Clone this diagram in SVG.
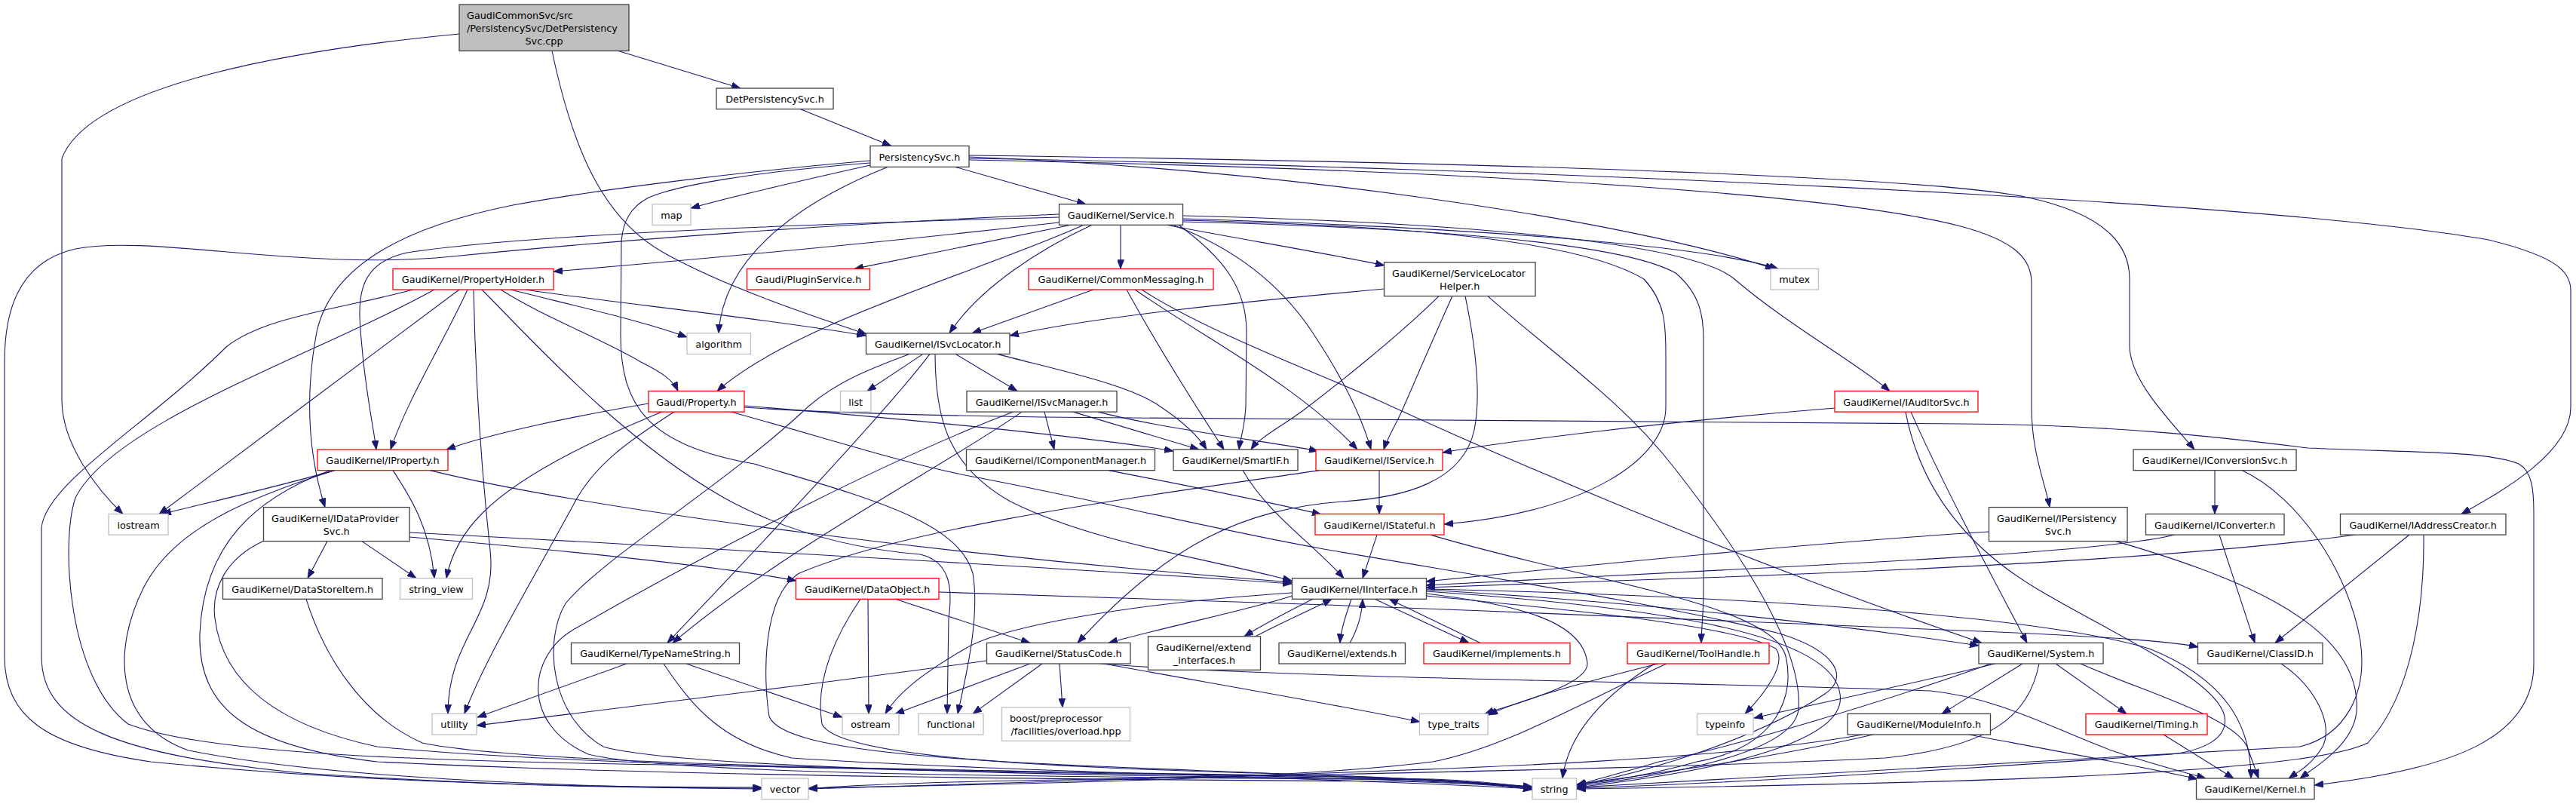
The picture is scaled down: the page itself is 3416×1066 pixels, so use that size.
<svg xmlns="http://www.w3.org/2000/svg" width="3416" height="1066" viewBox="0 0 3416 1066">
<style>
.e path{fill:none;stroke:#191970;stroke-width:1.1;marker-end:url(#a)}
.n rect{fill:#fff;stroke:#404040;stroke-width:1.3}
.n.r rect{stroke:#ff0000}
.n.s rect{stroke:#bfbfbf}
.n.root rect{fill:#bfbfbf}
.n text{font-family:'DejaVu Sans',sans-serif;font-size:12.8px;fill:#000}
.n text.c{text-anchor:middle}
</style>
<defs>
<marker id="a" viewBox="0 0 12 9" refX="12" refY="4.5" markerWidth="12" markerHeight="9" markerUnits="userSpaceOnUse" orient="auto"><path d="M0,0 L12,4.5 L0,9 z" fill="#191970" stroke="#191970" stroke-width="0.8"/></marker>
</defs>
<rect x="0" y="0" width="3416" height="1066" fill="#fff"/>
<g id="edges" class="e">
<path d="M820,67.5 L982,117"/>
<path d="M732,67.5 C760,200 800,290 880,335 C960,380 1080,420 1149,443"/>
<path d="M609,45 C400,65 120,110 82,210 L82,530 C82,590 130,650 163,681.5"/>
<path d="M1061,144.6 L1182,193.5"/>
<path d="M1154,219 C1060,240 980,258 916,276"/>
<path d="M1177,221.4 C1080,260 960,330 953,441.8"/>
<path d="M1267,221.4 L1440,270.7"/>
<path d="M1285,208 C1700,225 2150,290 2353,356.4"/>
<path d="M1285,212 C1800,222 2400,248 2600,300 C2675,320 2694,345 2694,375 L2694,540 C2694,600 2712,640 2718,672.6"/>
<path d="M1285,206 C1900,214 2550,232 2690,262 C2800,286 2824,330 2824,370 L2824,458 C2824,505 2880,560 2910,596"/>
<path d="M1285,210 C2000,222 3000,265 3300,318 C3390,340 3409,360 3409,385 L3409,540 C3409,600 3320,650 3264,681.5"/>
<path d="M1154,213 C1000,226 800,250 680,272 C540,300 440,350 420,440 C405,520 408,600 431,672.6"/>
<path d="M1154,216 C1000,228 900,245 860,262 C835,275 826,295 824,320 L823,440 C822,540 860,590 1000,615 C1150,660 1270,690 1290,760 C1300,820 1280,900 1270,946.4"/>
<path d="M639,384 C700,445 820,580 960,660 C1060,715 1160,730 1220,735 C1265,745 1262,790 1258,820 L1256,946.4"/>
<path d="M1382,880 L1290,946.4"/>
<path d="M1404.5,295 C1200,318 950,342 734,360"/>
<path d="M1420,298.3 L1133,356.4"/>
<path d="M1486,298.3 L1486,356.4"/>
<path d="M1547,298.3 C1650,318 1760,336 1836,352"/>
<path d="M1568.5,290 C1900,300 2250,322 2358,356.4"/>
<path d="M1568.5,286 C1900,294 2240,318 2300,370 C2370,430 2460,480 2506,518.5"/>
<path d="M1568.5,292 C1900,300 2100,322 2180,370 C2208,400 2209,430 2209,470 L2209,540 C2209,610 2100,680 1915,695"/>
<path d="M1568.5,294 C1900,302 2150,322 2222,362 C2255,390 2259,420 2259,450 L2259,780 C2259,815 2256,835 2256,852.4"/>
<path d="M1437,298.3 C1300,360 1050,430 951,518.5"/>
<path d="M1448,298.3 C1380,330 1300,380 1259,441.8"/>
<path d="M1404.5,288 C1100,296 700,310 540,335 C470,350 474,400 480,460 C485,520 495,565 499,596"/>
<path d="M1404.5,284 C1100,297 800,320 600,340 C400,360 200,310 100,330 C20,348 6,420 6,480 L6,870 C6,950 60,990 200,1010 C500,1040 800,1044 1010,1044"/>
<path d="M1555,298.3 C1640,330 1700,380 1740,440 C1780,500 1805,550 1818,596"/>
<path d="M1563,298.3 C1620,340 1653,380 1653,440 L1652,540 C1650,570 1645,580 1643,596"/>
<path d="M609,384 C520,450 300,615 211,681.5"/>
<path d="M620,384 C590,450 540,530 518,596"/>
<path d="M628,384 C630,480 636,600 650,730 C660,820 594,845 594,946.4"/>
<path d="M576,384 C420,470 150,560 100,660 C80,720 90,900 170,960 C300,1010 700,1010 1100,1018 C1500,1025 1850,1030 2032,1044"/>
<path d="M548,384 C450,410 350,420 300,460 C200,560 60,640 55,700 L55,870 C55,960 150,1000 400,1025 C700,1045 900,1045 1010,1045"/>
<path d="M664,384 C720,420 800,450 850,480 C880,495 893,505 899,518.5"/>
<path d="M677,384 C760,405 850,425 911,447"/>
<path d="M697,384 C800,400 1000,420 1148,445"/>
<path d="M860,535 C760,552 650,575 592,596"/>
<path d="M878,546 C820,570 700,620 640,680 C610,710 597,740 592,766.7"/>
<path d="M894,546 C850,575 790,610 760,670 C700,780 640,880 616,946.4"/>
<path d="M987,538 C1200,555 1450,580 1556,598"/>
<path d="M987,540 C1100,548 1300,553 1500,554 C2000,556 2400,560 2600,562 C2800,563 2950,580 3060,594 C3200,600 3300,598 3340,615 C3358,625 3360,650 3360,680 L3360,880 C3360,980 3250,1020 3069,1041"/>
<path d="M969,546 C1100,582 1200,615 1290,632 C1450,662 1600,700 1750,727 C1950,762 2200,800 2360,840 C2440,865 2450,900 2420,920 C2330,980 2180,1025 2091,1041"/>
<path d="M1450,384 L1289,441.8"/>
<path d="M1494,384 C1530,450 1580,530 1623,596"/>
<path d="M1505,384 C1600,450 1720,510 1800,596"/>
<path d="M1514,384 C1600,440 1760,500 1826,530 C2000,610 2300,740 2628,852.4"/>
<path d="M1835.5,383 C1650,400 1450,420 1339,445"/>
<path d="M1908,392.6 C1850,450 1760,520 1727,545 C1700,565 1670,580 1659,596"/>
<path d="M1926,392.6 C1900,450 1870,520 1859,545 C1850,565 1840,580 1835,596"/>
<path d="M1943,392.6 C1955,450 1965,520 1955,570 C1940,640 1860,660 1780,665 C1650,675 1550,720 1429,852.4"/>
<path d="M1973,392.6 C2060,470 2150,530 2220,620 C2330,760 2390,870 2385,940 C2380,1000 2200,1030 2091,1042"/>
<path d="M1224,469.4 L1150,518.5"/>
<path d="M1233,469.4 C1180,540 1030,700 885,852.4"/>
<path d="M1240,469.4 C1240,560 1260,620 1340,665 C1450,720 1600,740 1713,770"/>
<path d="M1267,469.4 L1349,518.5"/>
<path d="M1322,469.4 C1400,490 1500,510 1540,540 C1570,560 1590,580 1600,596"/>
<path d="M1206,469.4 C1150,490 1100,510 1060,550 C950,650 800,740 750,800 C720,850 730,950 800,990 C900,1020 1500,1030 1900,1033 C1960,1035 2000,1040 2032,1044"/>
<path d="M1385,546.1 L1398,596"/>
<path d="M1423,546.1 L1590,596"/>
<path d="M1456,546.1 C1550,570 1680,585 1748,598"/>
<path d="M1355,546.1 C1250,620 1050,720 892,852.4"/>
<path d="M1344,546.1 C1200,600 960,720 760,835 C700,870 690,960 780,1000 C900,1030 1500,1030 1900,1034 C1960,1036 2000,1041 2032,1045"/>
<path d="M1470,623.6 C1580,645 1680,665 1752,682"/>
<path d="M1648,623.6 C1680,680 1740,720 1782,766.7"/>
<path d="M1829,623.6 L1829,681.5"/>
<path d="M1750,623.6 C1500,660 1200,700 1060,760 C1010,790 1012,900 1020,950 C1040,1000 1300,1010 1600,1022 C1800,1030 1950,1036 2032,1043"/>
<path d="M1826,709.1 L1807,766.7"/>
<path d="M1897,709.1 C2100,770 2350,800 2368,870 C2380,920 2360,990 2250,1010 C2180,1030 2120,1038 2091,1040"/>
<path d="M1792,794.3 C1785,815 1778,835 1777,852.4"/>
<path d="M1790,852.4 C1800,835 1806,815 1807,794.3"/>
<path d="M1823,794.3 L1948,852.4"/>
<path d="M1963,852.4 L1842,794.3"/>
<path d="M1741,794.3 C1710,810 1680,825 1650,843.8"/>
<path d="M1665,843.8 C1700,825 1740,808 1766,794.3"/>
<path d="M1714,790 C1650,810 1550,830 1470,852.4"/>
<path d="M1713,786 C1500,800 1330,830 1280,860 C1220,895 1190,920 1174,946.4"/>
<path d="M1891,787 C2000,800 2100,820 2105,880 C2105,910 2000,935 1969,946.4"/>
<path d="M1891,790 C2100,810 2300,830 2355,860 C2370,880 2340,920 2314,946.4"/>
<path d="M1891,784 C2200,805 2430,840 2440,920 C2450,980 2300,1020 2091,1044"/>
<path d="M1891,782 C2200,800 2450,830 2624,856"/>
<path d="M1891,781 C2300,790 2700,815 2850,860 C2950,900 2985,960 2985,1032"/>
<path d="M1366,880 L1187,946.4"/>
<path d="M1405,880 L1409,938"/>
<path d="M1308.5,876 C1100,905 850,935 632,962"/>
<path d="M1464,880 C1600,905 1750,930 1883,957"/>
<path d="M1459,880 C1700,900 2300,905 2560,916 C2650,925 2720,965 2800,995 C2850,1012 2890,1022 2925,1032"/>
<path d="M1245,785 C1500,792 1650,798 1760,802 C2100,815 2500,830 2650,838 C2800,845 2880,850 2915,858"/>
<path d="M1187,794.3 L1366,852.4"/>
<path d="M1151,794.3 L1152,946.4"/>
<path d="M1141,794.3 C1110,840 1080,900 1090,960 C1110,1005 1400,1018 1700,1026 C1850,1030 1950,1036 2032,1045"/>
<path d="M406,794.3 C430,870 480,950 560,985 C700,1015 1300,1022 1700,1028 C1850,1031 1950,1037 2032,1045"/>
<path d="M434,717.6 L408,766.7"/>
<path d="M480,717.6 L552,766.7"/>
<path d="M543,706 C900,725 1400,752 1713,774"/>
<path d="M543,712 C750,730 950,750 1056,770"/>
<path d="M350,717 C300,740 280,780 285,820 C295,900 360,960 500,990 C800,1020 1500,1026 1800,1030 C1900,1033 1980,1038 2032,1046"/>
<path d="M444,623.6 C350,650 260,670 215,681.5"/>
<path d="M521,623.6 C545,660 570,700 576,766.7"/>
<path d="M570,623.6 C800,680 1300,740 1713,772"/>
<path d="M444,623.6 C330,660 230,700 190,780 C150,860 150,960 250,995 C450,1035 800,1044 1010,1046"/>
<path d="M438,623.6 C340,660 270,720 265,840 C262,940 330,990 500,1010 C900,1030 1500,1034 1850,1036 C1950,1038 2000,1042 2032,1047"/>
<path d="M831,880 L633,951"/>
<path d="M910,880 L1117,951"/>
<path d="M880,880 C920,940 960,985 1050,1005 C1300,1022 1800,1032 2032,1046"/>
<path d="M2199,880 C2120,900 2020,925 1974,948"/>
<path d="M2194,880 C2130,920 2080,970 2072,1032"/>
<path d="M2210,880 C2100,930 2000,990 1900,1010 C1700,1035 1300,1040 1072,1045"/>
<path d="M2682,880 L2575,946.4"/>
<path d="M2726,880 L2820,946.4"/>
<path d="M2759,880 C2850,920 2960,950 2980,990 L2995,1032"/>
<path d="M2646,880 C2520,910 2400,935 2326,952"/>
<path d="M2640,880 C2500,930 2300,990 2200,1010 C2150,1025 2110,1035 2091,1041"/>
<path d="M2704,880 C2690,950 2640,990 2500,1005 C2200,1020 1600,1030 1300,1036 C1150,1040 1100,1043 1072,1046"/>
<path d="M2611,974 C2750,1000 2860,1020 2914,1033"/>
<path d="M2484,974 C2350,1005 2200,1025 2091,1040"/>
<path d="M2470,974 C2300,1005 2000,1018 1600,1030 C1300,1038 1150,1042 1072,1046"/>
<path d="M2869,974 L2962,1032"/>
<path d="M3025,880 C3070,910 3095,960 3080,990 C3065,1015 3045,1025 3035,1032"/>
<path d="M2937,623.6 L2937,681.5"/>
<path d="M2973,623.6 C3050,660 3115,760 3130,850 C3140,920 3110,975 3050,990 C2700,1010 2300,1030 2091,1044"/>
<path d="M2637.5,705 C2400,720 2100,750 1891,771"/>
<path d="M2806,717.6 C2950,760 3120,820 3125,930 C3130,980 3080,1010 3050,1032"/>
<path d="M2884,709 C2800,730 2500,745 2300,755 C2100,765 1950,772 1891,776"/>
<path d="M2943,709 L2990,852.4"/>
<path d="M3124,709 C2900,740 2500,758 2200,768 C2050,774 1950,777 1891,779"/>
<path d="M3195,709 L3017,852.4"/>
<path d="M3214,709 C3215,800 3200,920 3140,985 C3050,1030 2500,1040 2091,1046"/>
<path d="M2433,541 C2200,560 2000,585 1913,600"/>
<path d="M2534,546.1 C2580,650 2650,780 2688,852.4"/>
<path d="M2527,546.1 C2545,640 2600,720 2700,780 C2800,840 2940,900 2950,950 C2955,980 2920,995 2880,1000 C2600,1020 2300,1038 2091,1045"/>
</g>
<g id="n_root" class="n root"><rect x="609" y="6" width="225" height="61.5"/><text x="619" y="24.8">GaudiCommonSvc/src</text><text x="619" y="42">/PersistencySvc/DetPersistency</text><text class="c" x="721.5" y="59.2">Svc.cpp</text></g>
<g id="n_detpersistencysvc" class="n"><rect x="950" y="117" width="155" height="27.6"/><text class="c" x="1027.5" y="136">DetPersistencySvc.h</text></g>
<g id="n_persistencysvc" class="n"><rect x="1154" y="193.5" width="131" height="27.9"/><text class="c" x="1219.5" y="212.5">PersistencySvc.h</text></g>
<g id="n_map" class="n s"><rect x="865" y="270.7" width="51" height="27.6"/><text class="c" x="890.5" y="289.7">map</text></g>
<g id="n_service" class="n"><rect x="1404.5" y="270.7" width="164" height="27.6"/><text class="c" x="1486.5" y="289.7">GaudiKernel/Service.h</text></g>
<g id="n_propertyholder" class="n r"><rect x="521" y="356.4" width="213" height="27.6"/><text class="c" x="627.5" y="375.4">GaudiKernel/PropertyHolder.h</text></g>
<g id="n_pluginservice" class="n r"><rect x="990.5" y="356.4" width="163" height="27.6"/><text class="c" x="1072" y="375.4">Gaudi/PluginService.h</text></g>
<g id="n_commonmessaging" class="n r"><rect x="1364" y="356.4" width="245" height="27.6"/><text class="c" x="1486.5" y="375.4">GaudiKernel/CommonMessaging.h</text></g>
<g id="n_servicelocatorhelper" class="n"><rect x="1835.5" y="347.8" width="200.5" height="44.8"/><text x="1846" y="366.8">GaudiKernel/ServiceLocator</text><text class="c" x="1935.7" y="384">Helper.h</text></g>
<g id="n_mutex" class="n s"><rect x="2348" y="356.4" width="63.5" height="27.6"/><text class="c" x="2379.7" y="375.4">mutex</text></g>
<g id="n_algorithm" class="n s"><rect x="911" y="441.8" width="84.5" height="27.6"/><text class="c" x="953.2" y="460.8">algorithm</text></g>
<g id="n_isvclocator" class="n"><rect x="1148.5" y="441.8" width="190.5" height="27.6"/><text class="c" x="1243.7" y="460.8">GaudiKernel/ISvcLocator.h</text></g>
<g id="n_property" class="n r"><rect x="860" y="518.5" width="127" height="27.6"/><text class="c" x="923.5" y="537.5">Gaudi/Property.h</text></g>
<g id="n_list" class="n s"><rect x="1114.5" y="518.5" width="40.5" height="27.6"/><text class="c" x="1134.7" y="537.5">list</text></g>
<g id="n_isvcmanager" class="n"><rect x="1282" y="518.5" width="199" height="27.6"/><text class="c" x="1381.5" y="537.5">GaudiKernel/ISvcManager.h</text></g>
<g id="n_iauditorsvc" class="n r"><rect x="2433" y="518.5" width="190" height="27.6"/><text class="c" x="2528" y="537.5">GaudiKernel/IAuditorSvc.h</text></g>
<g id="n_iproperty" class="n r"><rect x="421" y="596" width="173" height="27.6"/><text class="c" x="507.5" y="615">GaudiKernel/IProperty.h</text></g>
<g id="n_icomponentmanager" class="n"><rect x="1281.5" y="596" width="250" height="27.6"/><text class="c" x="1406.5" y="615">GaudiKernel/IComponentManager.h</text></g>
<g id="n_smartif" class="n"><rect x="1556" y="596" width="165" height="27.6"/><text class="c" x="1638.5" y="615">GaudiKernel/SmartIF.h</text></g>
<g id="n_iservice" class="n r"><rect x="1745" y="596" width="168" height="27.6"/><text class="c" x="1829" y="615">GaudiKernel/IService.h</text></g>
<g id="n_iconversionsvc" class="n"><rect x="2829" y="596" width="216" height="27.6"/><text class="c" x="2937" y="615">GaudiKernel/IConversionSvc.h</text></g>
<g id="n_iostream" class="n s"><rect x="144" y="681.5" width="79" height="27.6"/><text class="c" x="183.5" y="700.5">iostream</text></g>
<g id="n_idataprovidersvc" class="n"><rect x="349.5" y="672.6" width="193.5" height="45"/><text x="360" y="691.5">GaudiKernel/IDataProvider</text><text class="c" x="446.2" y="708.5">Svc.h</text></g>
<g id="n_istateful" class="n r"><rect x="1744" y="681.5" width="171" height="27.6"/><text class="c" x="1829.5" y="700.5">GaudiKernel/IStateful.h</text></g>
<g id="n_ipersistencysvc" class="n"><rect x="2637.5" y="672.6" width="183.5" height="45"/><text x="2648" y="691.5">GaudiKernel/IPersistency</text><text class="c" x="2729.2" y="708.5">Svc.h</text></g>
<g id="n_iconverter" class="n"><rect x="2845.5" y="681.5" width="183.5" height="27.6"/><text class="c" x="2937.2" y="700.5">GaudiKernel/IConverter.h</text></g>
<g id="n_iaddresscreator" class="n"><rect x="3103.5" y="681.5" width="219.5" height="27.6"/><text class="c" x="3213.2" y="700.5">GaudiKernel/IAddressCreator.h</text></g>
<g id="n_datastoreitem" class="n"><rect x="295.5" y="766.7" width="211.5" height="27.6"/><text class="c" x="401.2" y="785.7">GaudiKernel/DataStoreItem.h</text></g>
<g id="n_string_view" class="n s"><rect x="530.5" y="766.7" width="96" height="27.6"/><text class="c" x="578.5" y="785.7">string_view</text></g>
<g id="n_dataobject" class="n r"><rect x="1055.5" y="766.7" width="189.5" height="27.6"/><text class="c" x="1150.2" y="785.7">GaudiKernel/DataObject.h</text></g>
<g id="n_iinterface" class="n"><rect x="1713.5" y="766.7" width="178" height="27.6"/><text class="c" x="1802.5" y="785.7">GaudiKernel/IInterface.h</text></g>
<g id="n_typenamestring" class="n"><rect x="757.5" y="852.4" width="223" height="27.6"/><text class="c" x="869" y="871.4">GaudiKernel/TypeNameString.h</text></g>
<g id="n_statuscode" class="n"><rect x="1308.5" y="852.4" width="190.5" height="27.6"/><text class="c" x="1403.7" y="871.4">GaudiKernel/StatusCode.h</text></g>
<g id="n_extend_interfaces" class="n"><rect x="1522.5" y="843.8" width="149" height="44.5"/><text x="1533" y="862.8">GaudiKernel/extend</text><text class="c" x="1597" y="879.8">_interfaces.h</text></g>
<g id="n_extends" class="n"><rect x="1696" y="852.4" width="167.5" height="27.6"/><text class="c" x="1779.7" y="871.4">GaudiKernel/extends.h</text></g>
<g id="n_implements" class="n r"><rect x="1888" y="852.4" width="194" height="27.6"/><text class="c" x="1985" y="871.4">GaudiKernel/implements.h</text></g>
<g id="n_toolhandle" class="n r"><rect x="2158" y="852.4" width="188" height="27.6"/><text class="c" x="2252" y="871.4">GaudiKernel/ToolHandle.h</text></g>
<g id="n_system" class="n"><rect x="2624" y="852.4" width="165" height="27.6"/><text class="c" x="2706.5" y="871.4">GaudiKernel/System.h</text></g>
<g id="n_classid" class="n"><rect x="2914.5" y="852.4" width="165.5" height="27.6"/><text class="c" x="2997.2" y="871.4">GaudiKernel/ClassID.h</text></g>
<g id="n_utility" class="n s"><rect x="573" y="946.4" width="59" height="27.6"/><text class="c" x="602.5" y="965.4">utility</text></g>
<g id="n_ostream" class="n s"><rect x="1117" y="946.4" width="75" height="27.6"/><text class="c" x="1154.5" y="965.4">ostream</text></g>
<g id="n_functional" class="n s"><rect x="1218" y="946.4" width="86" height="27.6"/><text class="c" x="1261" y="965.4">functional</text></g>
<g id="n_boost_overload" class="n s"><rect x="1328.5" y="938" width="170" height="44.4"/><text x="1339" y="957">boost/preprocessor</text><text class="c" x="1413.5" y="974">/facilities/overload.hpp</text></g>
<g id="n_type_traits" class="n s"><rect x="1882.5" y="946.4" width="90.5" height="27.6"/><text class="c" x="1927.7" y="965.4">type_traits</text></g>
<g id="n_typeinfo" class="n s"><rect x="2250.5" y="946.4" width="74.5" height="27.6"/><text class="c" x="2287.7" y="965.4">typeinfo</text></g>
<g id="n_moduleinfo" class="n"><rect x="2450" y="946.4" width="189.5" height="27.6"/><text class="c" x="2544.7" y="965.4">GaudiKernel/ModuleInfo.h</text></g>
<g id="n_timing" class="n r"><rect x="2766" y="946.4" width="161" height="27.6"/><text class="c" x="2846.5" y="965.4">GaudiKernel/Timing.h</text></g>
<g id="n_vector" class="n s"><rect x="1010" y="1032" width="62" height="27.6"/><text class="c" x="1041" y="1051">vector</text></g>
<g id="n_string" class="n s"><rect x="2032" y="1032" width="58.5" height="27.6"/><text class="c" x="2061.2" y="1051">string</text></g>
<g id="n_kernel" class="n"><rect x="2912.5" y="1032" width="156.5" height="27.6"/><text class="c" x="2990.7" y="1051">GaudiKernel/Kernel.h</text></g>
</svg>
